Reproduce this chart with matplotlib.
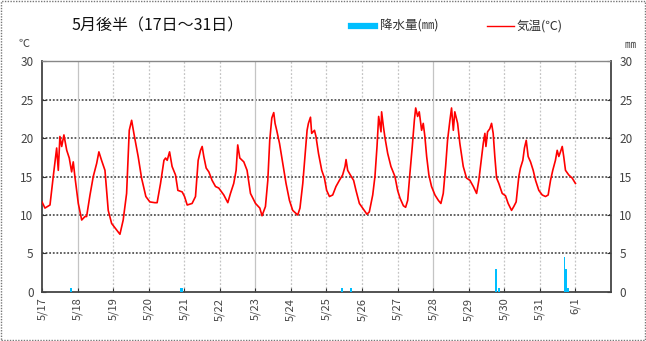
import matplotlib
matplotlib.use("Agg")
import matplotlib.pyplot as plt
from matplotlib.patches import Rectangle
from matplotlib.lines import Line2D

plt.rcParams['font.family'] = ['Noto Sans CJK JP', 'DejaVu Sans']

# Hours elapsed since 5/17 00:00 and air temperature (°C)
temp_hours = [
    0.0, 2.0, 5.4, 7.6, 9.9, 11.0, 12.1, 13.3, 14.8, 16.7, 18.4, 20.0, 21.1, 22.2,
    24.5, 26.8, 29.0, 30.1, 32.4, 34.6, 36.9, 38.4, 40.2, 42.5, 44.7, 47.0,
    50.4, 52.6, 54.8, 57.1, 58.9, 60.5, 62.2, 64.9, 67.2, 70.1,
    72.8, 76.2, 77.7, 80.0, 82.3, 83.4, 84.5, 86.1, 87.8, 90.1, 91.7, 94.6,
    96.2, 98.0, 101.3, 103.6, 105.4, 107.0, 108.1, 109.2, 110.8, 112.6, 114.8, 117.1, 119.3,
    122.7, 125.4, 127.2, 129.4, 131.0, 132.1, 133.5, 136.2, 138.4, 140.7,
    144.1, 147.0, 148.5, 150.8, 152.4, 153.7, 155.1, 156.4, 157.3, 158.4, 160.3, 162.5, 164.7, 167.0,
    169.2, 172.6, 174.1, 176.0, 177.5, 178.9, 179.8, 181.2, 182.0, 183.9, 184.9, 186.6, 188.8, 190.6,
    192.1, 194.0, 196.2, 198.4, 200.7, 202.9, 204.5, 205.2, 206.3, 208.1, 210.3, 211.9, 214.2,
    216.4, 219.3, 220.9, 223.2, 224.7, 226.1, 227.2, 228.8, 229.2, 230.4, 231.5, 233.3, 235.5, 238.2,
    240.0, 241.6, 243.9, 245.4, 246.8, 248.3, 249.9, 251.3, 252.2, 253.5, 254.6, 256.2, 257.3, 258.4,
    259.6, 261.1, 262.9, 265.2, 267.5, 269.2, 270.8, 272.4, 273.7, 275.3, 276.4, 277.6, 278.6, 280.5,
    282.0, 284.3, 286.5, 288.8, 291.1, 293.3, 294.8, 296.2, 297.8, 298.9, 299.6, 300.7, 302.2, 303.4,
    304.5, 305.6, 306.8, 308.3, 310.6, 312.8, 314.6, 316.9, 318.4, 320.0, 321.8, 322.9, 324.5, 325.6,
    326.8, 328.1, 329.7, 331.5, 333.1, 335.3, 337.6, 339.8, 341.6, 343.2, 344.7, 346.5, 347.7, 348.8,
    349.9, 351.1, 352.1, 353.3, 355.5, 357.8, 360.0,
]
temp_values = [
    11.7, 10.9, 11.3, 15.0, 18.7, 15.8, 20.2, 18.9, 20.4, 18.4, 17.4, 15.6, 16.9, 15.0,
    11.5, 9.35, 9.8, 9.8, 12.6, 15.0, 16.7, 18.2, 17.1, 15.8, 10.6, 8.9,
    8.05, 7.5, 9.35, 12.8, 21.0, 22.3, 20.4, 17.6, 14.8, 12.4,
    11.7, 11.6, 11.6, 14.1, 17.1, 17.4, 17.1, 18.2, 16.3, 15.2, 13.2, 13.0,
    12.4, 11.3, 11.5, 12.4, 17.1, 18.4, 18.9, 17.6, 16.1, 15.6, 14.5, 13.7, 13.5,
    12.6, 11.6, 12.8, 14.1, 15.8, 19.1, 17.4, 16.9, 15.8, 12.8,
    11.5, 10.9, 9.9, 11.1, 14.5, 19.7, 22.6, 23.3, 21.9, 21.0, 19.3, 16.7, 14.1, 11.9,
    10.6, 10.0, 10.9, 14.1, 17.6, 21.0, 21.9, 22.7, 20.6, 21.0, 20.2, 18.0, 15.8, 14.8,
    13.2, 12.4, 12.6, 13.7, 14.5, 15.2, 16.3, 17.2, 15.8, 15.2, 14.5, 13.2, 11.5,
    10.9, 10.1, 10.4, 12.6, 15.0, 18.9, 22.8, 20.8, 23.4, 21.5, 20.0, 18.0, 16.3, 15.0,
    13.2, 12.2, 11.2, 11.0, 11.9, 15.4, 18.9, 22.3, 23.9, 22.8, 23.4, 21.0, 21.9, 20.2,
    17.6, 15.2, 13.7, 12.6, 11.9, 11.5, 12.8, 16.3, 19.7, 22.3, 23.9, 21.0, 23.4, 21.9,
    19.3, 16.3, 14.8, 14.5, 13.7, 12.8, 14.5, 16.7, 19.3, 20.6, 18.9, 20.8, 21.2, 21.9,
    20.6, 17.6, 14.8, 14.1, 12.8, 12.5, 11.5, 10.6, 11.1, 11.7, 15.0, 16.1, 17.1, 18.7,
    19.7, 17.6, 16.9, 15.8, 14.5, 13.2, 12.6, 12.4, 12.6, 14.5, 15.8, 17.1, 18.4, 17.6,
    18.2, 18.9, 17.6, 15.8, 15.2, 14.8, 14.1,
]

# Hourly precipitation (mm), hour index since 5/17 00:00
rain_hours = [19, 93, 94, 202, 208, 306, 308, 352, 353, 354, 355]
rain_values = [0.5, 0.5, 0.5, 0.5, 0.5, 3.0, 0.5, 4.5, 3.0, 0.5, 0.5]

day_labels = ["5/17", "5/18", "5/19", "5/20", "5/21", "5/22", "5/23", "5/24",
              "5/25", "5/26", "5/27", "5/28", "5/29", "5/30", "5/31", "6/1"]
y_ticks = [0, 5, 10, 15, 20, 25, 30]

title = "5月後半（17日～31日）"

fig = plt.figure(figsize=(6.46, 3.41), dpi=100)
ax = fig.add_axes([0.065, 0.1437, 0.8808, 0.6774])

tick_color = "#444444"

# precipitation bars
ax.bar([h + 0.5 for h in rain_hours], rain_values, width=1.0,
       color="#00BFFF", linewidth=0, zorder=3)
# temperature line
ax.plot(temp_hours, temp_values, color="#FF0000", linewidth=1.2, zorder=4)

ax.set_xlim(0, 16 * 24)
ax.set_ylim(0, 30)

# horizontal grid
for v in y_ticks[1:-1]:
    ax.axhline(v, color="#555555", linewidth=1.3, linestyle=(0, (1, 1)), zorder=1)
# vertical grid, solid every five days
for i in range(1, 16):
    if i in (1, 6, 11):
        ax.axvline(i * 24, color="#c4c4c4", linewidth=0.9, zorder=1)
    else:
        ax.axvline(i * 24, color="#c4c4c4", linewidth=0.9, linestyle=(0, (1.5, 1.5)), zorder=1)

ax.set_xticks([i * 24 for i in range(16)])
ax.set_xticklabels(day_labels, rotation=90, fontsize=8, color=tick_color)
ax.set_yticks(y_ticks)
ax.set_yticklabels([str(v) for v in y_ticks], fontsize=8.5, color=tick_color)
ax.tick_params(axis="both", direction="in", length=3, width=0.8, color="#333333",
               right=True, labelright=True, pad=6)
ax.tick_params(axis="x", pad=4)

for side in ("left", "bottom", "right"):
    ax.spines[side].set_color("#444444")
    ax.spines[side].set_linewidth(1.3)
ax.spines["top"].set_color("#888888")
ax.spines["top"].set_linewidth(1.0)
ax.spines["top"].set_linestyle((0, (1, 1)))

# unit labels and title
fig.text(0.038, 0.872, "℃", fontsize=8, color=tick_color, ha="center", va="center")
fig.text(0.975, 0.868, "㎜", fontsize=8, color=tick_color, ha="center", va="center")
fig.text(0.11, 0.925, title, fontsize=11.5, color="#111111", ha="left", va="center")

# legend
fig.add_artist(Line2D([0.543, 0.58], [0.923, 0.923], color="#00BFFF", linewidth=4.5,
                      transform=fig.transFigure))
fig.text(0.588, 0.923, "降水量(㎜)", fontsize=9, color="#333333", ha="left", va="center")
fig.add_artist(Line2D([0.754, 0.795], [0.923, 0.923], color="#FF0000", linewidth=1.0,
                      transform=fig.transFigure))
fig.text(0.8, 0.923, "気温(℃)", fontsize=9, color="#333333", ha="left", va="center")

# outer frame
fig.add_artist(Rectangle((0.002, 0.003), 0.996, 0.994, transform=fig.transFigure,
                         fill=False, edgecolor="#777777", linewidth=1.0,
                         linestyle=(0, (1, 1))))

fig.savefig("out.png", dpi=100)
